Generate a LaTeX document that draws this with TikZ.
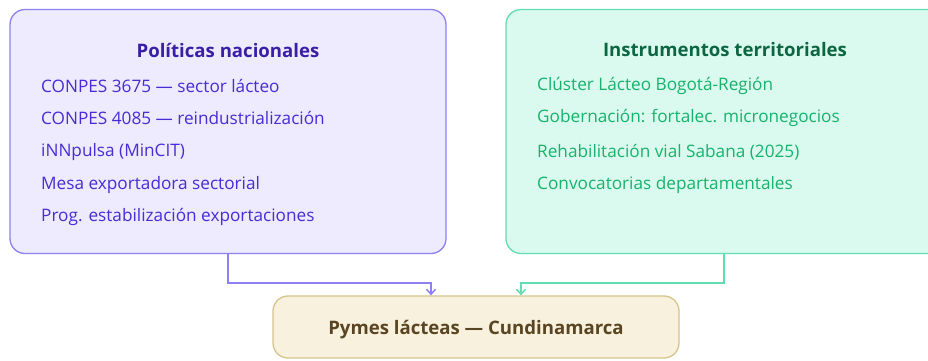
\documentclass[tikz,border=0pt]{standalone}
\usepackage{fontspec}
\setmainfont{Open Sans}
\usetikzlibrary{arrows.meta}
\definecolor{polfill}{HTML}{EDEBFD}
\definecolor{poldraw}{HTML}{8C80F2}
\definecolor{poltext}{HTML}{4A2BD6}
\definecolor{poltitle}{HTML}{3A1FA6}
\definecolor{insfill}{HTML}{DAFAEF}
\definecolor{insdraw}{HTML}{62DDB0}
\definecolor{instext}{HTML}{16B36C}
\definecolor{institle}{HTML}{0C6642}
\definecolor{pymfill}{HTML}{F8F1DD}
\definecolor{pymdraw}{HTML}{D6C48C}
\definecolor{pymtext}{HTML}{5A4522}
\tikzset{
  panel/.style={rounded corners=15pt, line width=1.3pt, inner sep=0pt},
  titletext/.style={font=\fontsize{18.6}{22}\selectfont\bfseries, inner sep=0pt},
  itemtext/.style={font=\fontsize{17.2}{20}\selectfont, anchor=west, inner sep=0pt},
  conn/.style={line width=1.8pt, -{Straight Barb[length=5pt,width=9pt,line width=1.5pt]}},
}
\begin{document}
\begin{tikzpicture}[x=1pt,y=-1pt]
\useasboundingbox (0,0) rectangle (928,360);
\node[panel, draw=poldraw, fill=polfill, minimum width=436pt, minimum height=244pt] (pol) at (228,131.5) {};
\node[panel, draw=insdraw, fill=insfill, minimum width=436pt, minimum height=244pt] (ins) at (724,131.5) {};
\node[panel, draw=pymdraw, fill=pymfill, minimum width=406pt, minimum height=62pt] (pym) at (476,327) {};

\node[titletext, text=poltitle] (polt) at (228,50) {Políticas nacionales};
\node[itemtext, text=poltext] (p1) at (41,86) {CONPES 3675 — sector lácteo};
\node[itemtext, text=poltext] (p2) at (41,118) {CONPES 4085 — reindustrialización};
\node[itemtext, text=poltext] (p3) at (41,152) {iNNpulsa (MinCIT)};
\node[itemtext, text=poltext] (p4) at (41,185) {Mesa exportadora sectorial};
\node[itemtext, text=poltext] (p5) at (41,217) {Prog. estabilización exportaciones};

\node[titletext, text=institle] (inst) at (725,50) {Instrumentos territoriales};
\node[itemtext, text=instext] (i1) at (537,86) {Clúster Lácteo Bogotá-Región};
\node[itemtext, text=instext] (i2) at (537,118) {Gobernación: fortalec. micronegocios};
\node[itemtext, text=instext] (i3) at (537,152) {Rehabilitación vial Sabana (2025)};
\node[itemtext, text=instext] (i4) at (537,185) {Convocatorias departamentales};

\node[titletext, text=pymtext] (pymt) at (476,330) {Pymes lácteas — Cundinamarca};

\draw[conn, draw=poldraw] (pol.south) |- ([xshift=-45pt,yshift=12pt]pym.north) -- ([xshift=-45pt]pym.north);
\draw[conn, draw=insdraw] (ins.south) |- ([xshift=45pt,yshift=12pt]pym.north) -- ([xshift=45pt]pym.north);
\end{tikzpicture}
\end{document}
